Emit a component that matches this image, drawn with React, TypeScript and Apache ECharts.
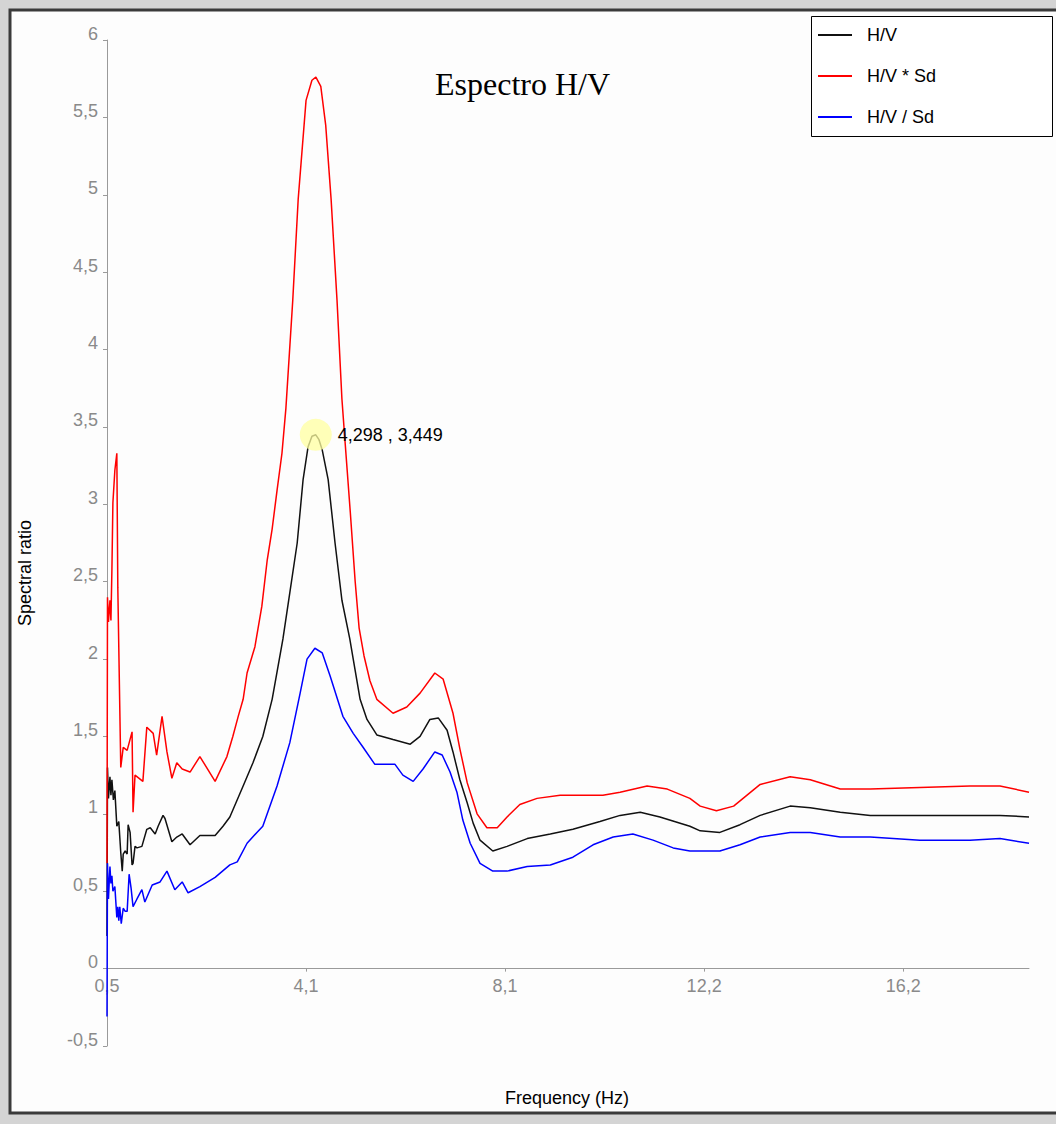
import React, { useEffect, useRef } from 'react';
import * as echarts from 'echarts';

// H/V spectral ratio: [frequency Hz, ratio]
const hvData: [number, number][] = [
  [0.05, 0.21], [0.06, 1.30], [0.08, 1.10], [0.11, 1.24], [0.13, 1.12], [0.15, 1.22], [0.18, 1.09], [0.21, 1.15],
  [0.25, 0.92], [0.29, 0.95], [0.33, 0.75], [0.36, 0.63], [0.38, 0.74], [0.42, 0.76], [0.46, 0.74], [0.48, 0.93],
  [0.52, 0.88], [0.56, 0.67], [0.58, 0.68], [0.62, 0.79], [0.66, 0.78], [0.76, 0.79], [0.86, 0.90], [0.93, 0.91],
  [1.03, 0.87], [1.09, 0.92], [1.19, 0.99], [1.23, 0.97], [1.37, 0.82], [1.47, 0.85], [1.58, 0.87], [1.74, 0.80],
  [1.94, 0.86], [2.25, 0.86], [2.41, 0.92], [2.55, 0.98], [2.82, 1.18], [3.02, 1.33], [3.22, 1.50], [3.41, 1.74],
  [3.63, 2.13], [3.77, 2.43], [3.92, 2.75], [4.04, 3.16], [4.14, 3.37], [4.22, 3.44], [4.298, 3.449], [4.36, 3.42],
  [4.43, 3.35], [4.55, 3.16], [4.69, 2.75], [4.83, 2.38], [4.99, 2.13], [5.06, 2.00], [5.20, 1.74], [5.34, 1.61],
  [5.54, 1.51], [5.87, 1.48], [6.22, 1.45], [6.42, 1.50], [6.62, 1.61], [6.79, 1.62], [6.97, 1.54], [7.09, 1.40],
  [7.23, 1.22], [7.38, 1.07], [7.50, 0.94], [7.64, 0.83], [7.90, 0.76], [8.19, 0.79], [8.60, 0.84], [9.07, 0.87],
  [9.53, 0.90], [10.08, 0.95], [10.49, 0.99], [10.90, 1.01], [11.30, 0.98], [11.91, 0.92], [12.12, 0.89], [12.52, 0.88],
  [12.93, 0.93], [13.34, 0.99], [13.95, 1.05], [14.36, 1.04], [14.97, 1.01], [15.58, 0.99], [16.19, 0.99], [17.20, 0.99],
  [18.22, 0.99], [18.81, 0.98],
];

// H/V * Sd
const hvTimesSdData: [number, number][] = [
  [0.05, 0.68], [0.06, 2.40], [0.08, 2.24], [0.11, 2.38], [0.13, 2.25], [0.15, 2.58], [0.17, 3.01], [0.21, 3.22],
  [0.25, 3.33], [0.27, 2.46], [0.33, 1.30], [0.38, 1.43], [0.46, 1.41], [0.56, 1.53], [0.58, 1.01], [0.62, 1.25],
  [0.78, 1.21], [0.86, 1.56], [0.99, 1.52], [1.06, 1.38], [1.17, 1.63], [1.27, 1.40], [1.37, 1.23], [1.47, 1.33],
  [1.58, 1.29], [1.74, 1.27], [1.94, 1.37], [2.25, 1.21], [2.49, 1.37], [2.61, 1.50], [2.72, 1.63], [2.82, 1.74],
  [2.90, 1.91], [3.06, 2.08], [3.20, 2.34], [3.31, 2.64], [3.41, 2.84], [3.51, 3.09], [3.61, 3.33], [3.69, 3.62],
  [3.83, 4.32], [3.94, 4.97], [4.10, 5.61], [4.22, 5.74], [4.30, 5.76], [4.40, 5.70], [4.50, 5.45], [4.61, 4.97],
  [4.73, 4.32], [4.83, 3.68], [4.89, 3.42], [5.00, 2.95], [5.10, 2.50], [5.18, 2.20], [5.28, 2.02], [5.40, 1.86],
  [5.54, 1.74], [5.87, 1.65], [6.15, 1.69], [6.42, 1.78], [6.72, 1.91], [6.89, 1.87], [7.09, 1.65], [7.23, 1.42],
  [7.38, 1.20], [7.58, 1.00], [7.78, 0.91], [7.99, 0.91], [8.19, 0.98], [8.45, 1.06], [8.80, 1.10], [9.27, 1.12],
  [9.74, 1.12], [10.14, 1.12], [10.49, 1.14], [11.04, 1.18], [11.45, 1.16], [11.91, 1.10], [12.12, 1.05], [12.45, 1.02],
  [12.80, 1.05], [13.34, 1.19], [13.95, 1.24], [14.36, 1.22], [14.97, 1.16], [15.58, 1.16], [16.59, 1.17], [17.61, 1.18],
  [18.22, 1.18], [18.81, 1.14],
];

// H/V / Sd
const hvDivSdData: [number, number][] = [
  [0.05, -0.31], [0.06, 0.68], [0.08, 0.45], [0.11, 0.66], [0.13, 0.55], [0.15, 0.60], [0.17, 0.50], [0.21, 0.53],
  [0.25, 0.33], [0.27, 0.40], [0.29, 0.31], [0.31, 0.40], [0.34, 0.29], [0.38, 0.39], [0.42, 0.37], [0.46, 0.37],
  [0.50, 0.61], [0.54, 0.52], [0.58, 0.40], [0.66, 0.45], [0.76, 0.51], [0.82, 0.43], [0.97, 0.54], [1.13, 0.56],
  [1.27, 0.63], [1.43, 0.51], [1.58, 0.56], [1.70, 0.49], [1.94, 0.53], [2.25, 0.59], [2.55, 0.67], [2.70, 0.69],
  [2.90, 0.81], [3.10, 0.88], [3.22, 0.92], [3.51, 1.18], [3.77, 1.46], [3.98, 1.78], [4.12, 2.00], [4.28, 2.07],
  [4.43, 2.04], [4.59, 1.89], [4.85, 1.63], [5.06, 1.52], [5.26, 1.43], [5.50, 1.32], [5.75, 1.32], [5.91, 1.32],
  [6.07, 1.25], [6.28, 1.21], [6.48, 1.29], [6.72, 1.40], [6.87, 1.38], [7.03, 1.27], [7.17, 1.14], [7.29, 0.96],
  [7.44, 0.81], [7.64, 0.68], [7.90, 0.63], [8.19, 0.63], [8.60, 0.66], [9.07, 0.67], [9.53, 0.72], [9.94, 0.80],
  [10.35, 0.85], [10.75, 0.87], [11.16, 0.83], [11.57, 0.78], [11.91, 0.76], [12.12, 0.76], [12.52, 0.76], [12.93, 0.80],
  [13.34, 0.85], [13.95, 0.88], [14.36, 0.88], [14.97, 0.85], [15.58, 0.85], [16.59, 0.83], [17.61, 0.83], [18.22, 0.84],
  [18.81, 0.81],
];

const seriesNames = ['H/V', 'H/V * Sd', 'H/V / Sd'];
const xTickValues = [0.05, 4.1, 8.15, 12.2, 16.25];
const xTickLabels = ['0,5', '4,1', '8,1', '12,2', '16,2'];
const peakPoint: [number, number] = [4.298, 3.449];
const peakLabel = '4,298 , 3,449';
const titleText = 'Espectro H/V';
const xName = 'Frequency (Hz)';
const yName = 'Spectral ratio';

export default function App() {
  const ref = useRef<HTMLDivElement>(null);
  useEffect(() => {
    if (!ref.current) return;
    const chart = echarts.init(ref.current, null, { renderer: 'svg' });
    const font = '"Liberation Sans", Arial, sans-serif';
    const axisGray = '#9a9a9a';
    const labelGray = '#8a8a8a';
    const yMin = -0.5;
    const yMax = 6;
    const gridTop = 40;
    const gridBottom = 78;
    const plotH = 1124 - gridTop - gridBottom;
    // move the x axis from the grid bottom up to y = 0
    const xAxisOffset = -(plotH * (0 - yMin)) / (yMax - yMin);
    chart.setOption({
      animation: false,
      backgroundColor: '#d4d4d4',
      grid: { left: 107, right: 27, top: gridTop, bottom: gridBottom, containLabel: false, outerBoundsMode: 'none' },
      xAxis: {
        type: 'value',
        min: 0.05,
        max: 18.81,
        offset: xAxisOffset,
        splitLine: { show: false },
        axisLine: { onZero: false, lineStyle: { color: axisGray, width: 1 } },
        axisTick: { show: true, length: 3, customValues: xTickValues, lineStyle: { color: axisGray } },
        axisLabel: {
          customValues: xTickValues,
          formatter: (v: number) => {
            const i = xTickValues.findIndex((t) => Math.abs(t - v) < 1e-6);
            return i >= 0 ? xTickLabels[i] : '';
          },
          color: labelGray,
          fontSize: 18,
          fontFamily: font,
          margin: 8,
          lineHeight: 18,
        },
      },
      yAxis: {
        type: 'value',
        min: yMin,
        max: yMax,
        interval: 0.5,
        splitLine: { show: false },
        axisLine: { show: true, lineStyle: { color: axisGray, width: 1 } },
        axisTick: { show: true, length: 4, lineStyle: { color: axisGray } },
        axisLabel: {
          formatter: (v: number) => String(v).replace('.', ','),
          color: labelGray,
          fontSize: 18,
          fontFamily: font,
          margin: 9,
          verticalAlign: 'bottom',
          lineHeight: 13,
        },
      },
      legend: {
        show: true,
        left: 818,
        top: 26,
        orient: 'vertical',
        itemWidth: 34,
        itemHeight: 2,
        itemGap: 23,
        icon: 'rect',
        padding: 0,
        selectedMode: false,
        data: seriesNames,
        textStyle: { fontSize: 18, fontFamily: font, color: '#000', lineHeight: 18, padding: [0, 0, 0, 10] },
        z: 6,
      },
      graphic: [
        {
          type: 'rect',
          z: -10,
          silent: true,
          shape: { x: 10, y: 10, width: 1060, height: 1103 },
          style: { fill: '#fdfdfd', stroke: '#3a3a3a', lineWidth: 3 },
        },
        {
          type: 'rect',
          z: 1,
          silent: true,
          shape: { x: 811.5, y: 16.5, width: 241, height: 120 },
          style: { fill: '#ffffff', stroke: '#000000', lineWidth: 1 },
        },
        {
          type: 'text',
          x: 435,
          y: 84,
          silent: true,
          style: { text: titleText, fontSize: 32, fontFamily: '"Liberation Serif", "Times New Roman", serif', fill: '#000', verticalAlign: 'middle' },
        },
        {
          type: 'text',
          x: 25,
          y: 573,
          rotation: Math.PI / 2,
          silent: true,
          style: { text: yName, fontSize: 18, fontFamily: font, fill: '#000', align: 'center', verticalAlign: 'middle' },
        },
        {
          type: 'text',
          x: 567,
          y: 1098,
          silent: true,
          style: { text: xName, fontSize: 18, fontFamily: font, fill: '#000', align: 'center', verticalAlign: 'middle' },
        },
      ],
      series: [
        {
          name: seriesNames[0],
          type: 'line',
          data: hvData,
          showSymbol: false,
          color: '#111111',
          lineStyle: { width: 1.5, color: '#111111' },
          markPoint: {
            symbol: 'circle',
            symbolSize: 32,
            itemStyle: { color: 'rgba(255,255,160,0.75)' },
            label: { show: true, position: 'right', distance: 6, formatter: peakLabel, color: '#000', fontSize: 18, fontFamily: font },
            data: [{ coord: peakPoint }],
          },
        },
        {
          name: seriesNames[1],
          type: 'line',
          data: hvTimesSdData,
          showSymbol: false,
          color: '#ff0000',
          lineStyle: { width: 1.5, color: '#ff0000' },
        },
        {
          name: seriesNames[2],
          type: 'line',
          data: hvDivSdData,
          showSymbol: false,
          color: '#0000ff',
          lineStyle: { width: 1.5, color: '#0000ff' },
        },
      ],
    });
    return () => chart.dispose();
  }, []);
  return <div ref={ref} style={{ position: 'absolute', left: 0, top: 0, width: 1056, height: 1124 }} />;
}
